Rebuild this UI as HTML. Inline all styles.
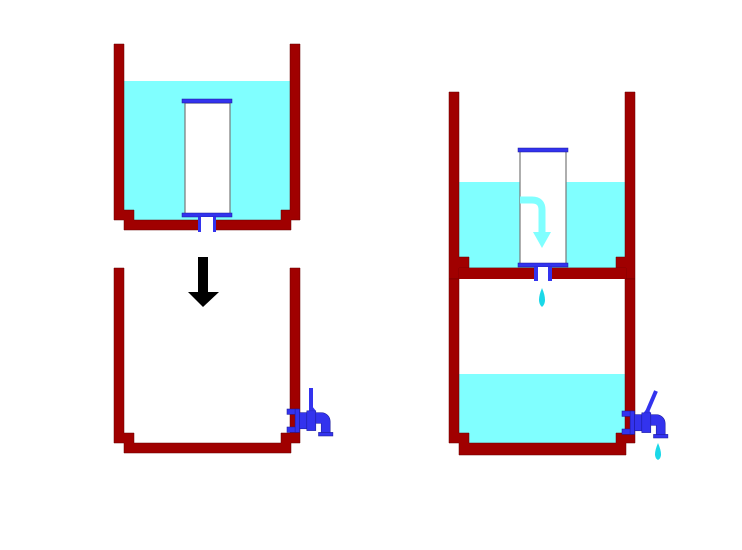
<!DOCTYPE html>
<html><head><style>html,body{margin:0;padding:0;background:#fff;width:742px;height:550px;overflow:hidden}</style></head>
<body>
<svg width="742" height="550" viewBox="0 0 742 550" xmlns="http://www.w3.org/2000/svg">
<defs>
<g id="tap">
  <rect x="0" y="0" width="12" height="6" fill="#3333ee" stroke="#1a1a99" stroke-width="0.6"/>
  <rect x="0" y="20" width="12" height="6" fill="#3333ee" stroke="#1a1a99" stroke-width="0.6"/>
  <rect x="9" y="0" width="5" height="26" fill="#3333ee" stroke="#1a1a99" stroke-width="0.6"/>
  <rect x="14" y="4" width="8" height="18" fill="#3333ee" stroke="#1a1a99" stroke-width="0.6"/>
  <rect x="22" y="2" width="10" height="22" fill="#3333ee" stroke="#1a1a99" stroke-width="0.6"/>
  <path d="M32 4 h6 a10 10 0 0 1 10 10 v12 h-10 v-10 h-6 z" fill="#3333ee" stroke="#1a1a99" stroke-width="0.6"/>
  <rect x="35" y="26" width="16" height="4" fill="#3333ee" stroke="#1a1a99" stroke-width="0.6"/>
  <path d="M24 2 l4 -5 l4 5 z" fill="#3333ee"/>
</g>
</defs>
<!-- top left tank -->
<rect x="124" y="81" width="166" height="139" fill="#80ffff"/>
<polygon points="114,44 114,220 124,220 124,230 291,230 291,220 300,220 300,44 290,44 290,210 281,210 281,220 134,220 134,210 124,210 124,44" fill="#a00000" stroke="#600" stroke-width="0.5"/>
<rect x="185" y="103" width="45" height="111" fill="#fff" stroke="#777" stroke-width="1.2"/>
<rect x="182" y="99" width="50" height="4" fill="#3333ee" stroke="#1a1a99" stroke-width="0.5"/>
<rect x="182" y="213" width="50" height="4" fill="#3333ee" stroke="#1a1a99" stroke-width="0.5"/>
<rect x="201" y="217" width="12" height="15" fill="#fff"/>
<rect x="198" y="217" width="3" height="15" fill="#3333ee"/>
<rect x="213" y="217" width="3" height="15" fill="#3333ee"/>
<!-- arrow -->
<rect x="198" y="257" width="10" height="36" fill="#000"/>
<polygon points="188,292 219,292 203,307" fill="#000"/>
<!-- bottom left tank -->
<polygon points="114,268 114,443 124,443 124,453 291,453 291,443 300,443 300,268 290,268 290,433 281,433 281,443 134,443 134,433 124,433 124,268" fill="#a00000" stroke="#600" stroke-width="0.5"/>
<g transform="translate(287,409) scale(0.9)"><use href="#tap"/></g>
<rect x="309" y="388" width="4" height="22" fill="#3333ee"/>
<!-- right upper tank -->
<rect x="459" y="182" width="166" height="86" fill="#80ffff"/>
<polygon points="449,92 449,279 459,279 459,268 626,268 626,279 635,279 635,92 625,92 625,257 616,257 616,268 469,268 469,257 459,257 459,92" fill="#a00000" stroke="#600" stroke-width="0.5"/>
<rect x="459" y="268" width="167" height="11" fill="#a00000"/>
<rect x="520" y="151" width="46" height="113" fill="#fff" stroke="#777" stroke-width="1.2"/>
<path d="M520 200 h12 q10 0 10 10 v22" fill="none" stroke="#80ffff" stroke-width="7"/>
<polygon points="533,232 551,232 542,248" fill="#80ffff"/>
<rect x="518" y="148" width="50" height="4" fill="#3333ee" stroke="#1a1a99" stroke-width="0.5"/>
<rect x="518" y="263" width="50" height="4" fill="#3333ee" stroke="#1a1a99" stroke-width="0.5"/>
<rect x="538" y="267" width="10" height="14" fill="#fff"/>
<rect x="534" y="267" width="4" height="14" fill="#3333ee"/>
<rect x="548" y="267" width="4" height="14" fill="#3333ee"/>
<path d="M542 288 q-6 14 0 19 q6 -5 0 -19 z" fill="#1ad8e8"/>
<!-- right lower tank -->
<rect x="459" y="374" width="166" height="70" fill="#80ffff"/>
<polygon points="449,279 449,443 459,443 459,455 626,455 626,443 635,443 635,279 625,279 625,433 616,433 616,443 469,443 469,433 459,433 459,279" fill="#a00000" stroke="#600" stroke-width="0.5"/>
<g transform="translate(622,411) scale(0.9)"><use href="#tap"/></g>
<line x1="647" y1="412" x2="656" y2="391" stroke="#3333ee" stroke-width="4"/>
<path d="M658 443 q-6 14 0 17 q6 -3 0 -17 z" fill="#1ad8e8"/>
</svg>
</body></html>
